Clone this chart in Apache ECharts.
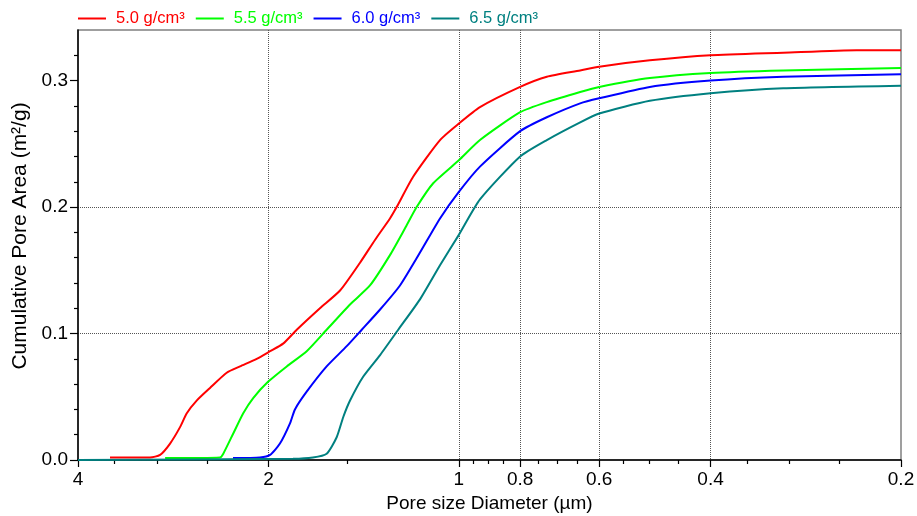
<!DOCTYPE html>
<html>
<head>
<meta charset="utf-8">
<title>Cumulative Pore Area</title>
<script src="https://cdn.jsdelivr.net/npm/echarts@6/dist/echarts.min.js"></script>
<style>
  html, body { margin: 0; padding: 0; background: #fff; }
  #chart { width: 917px; height: 516px; }
</style>
</head>
<body>
<div id="chart"></div>
<script>
// Series names (bulk density of each sample)
const seriesNames = ['5.0 g/cm³', '5.5 g/cm³', '6.0 g/cm³', '6.5 g/cm³'];
const seriesColors = ['#ff0000', '#00ff00', '#0000ff', '#008080'];

// Pore diameter (µm) and cumulative pore area (m²/g) for each sample
const diameter50 = [3.56, 3.078, 2.967, 2.861, 2.759, 2.692, 2.597, 2.474, 2.328, 2.218, 2.087, 1.988, 1.896, 1.804, 1.658, 1.541, 1.433, 1.357, 1.285, 1.254, 1.181, 1.071, 1.0, 0.926, 0.8, 0.726, 0.643, 0.6, 0.499, 0.4, 0.307, 0.235, 0.2];
const area50 = [0.002, 0.002, 0.004, 0.013, 0.026, 0.037, 0.047, 0.057, 0.069, 0.074, 0.080, 0.086, 0.092, 0.103, 0.120, 0.134, 0.156, 0.174, 0.191, 0.200, 0.224, 0.253, 0.266, 0.279, 0.295, 0.303, 0.308, 0.311, 0.316, 0.320, 0.322, 0.324, 0.324];

const diameter55 = [2.913, 2.386, 2.357, 2.273, 2.192, 2.114, 2.001, 1.871, 1.740, 1.618, 1.486, 1.382, 1.285, 1.217, 1.166, 1.097, 1.0, 0.926, 0.8, 0.726, 0.643, 0.6, 0.499, 0.4, 0.307, 0.2];
const area55 = [0.0015, 0.002, 0.005, 0.021, 0.037, 0.049, 0.062, 0.074, 0.086, 0.103, 0.123, 0.138, 0.162, 0.183, 0.200, 0.219, 0.237, 0.253, 0.275, 0.283, 0.291, 0.295, 0.302, 0.306, 0.308, 0.310];

const diameter60 = [2.275, 2.063, 1.988, 1.918, 1.849, 1.816, 1.740, 1.618, 1.504, 1.424, 1.332, 1.239, 1.152, 1.071, 1.0, 0.926, 0.8, 0.726, 0.643, 0.6, 0.499, 0.4, 0.307, 0.2];
const area60 = [0.0015, 0.002, 0.004, 0.013, 0.029, 0.040, 0.054, 0.074, 0.090, 0.103, 0.119, 0.138, 0.164, 0.191, 0.212, 0.232, 0.260, 0.271, 0.282, 0.286, 0.295, 0.300, 0.303, 0.305];

const diameter65 = [4, 1.829, 1.701, 1.618, 1.560, 1.523, 1.486, 1.416, 1.332, 1.247, 1.152, 1.071, 1.0, 0.926, 0.8, 0.726, 0.643, 0.6, 0.499, 0.4, 0.307, 0.2];
const area65 = [0, 0.001, 0.002, 0.005, 0.018, 0.034, 0.047, 0.066, 0.083, 0.103, 0.127, 0.154, 0.178, 0.206, 0.240, 0.253, 0.267, 0.274, 0.284, 0.290, 0.294, 0.296];

// Axis ticks
const xMajorTicks = [4, 2, 1, 0.8, 0.6, 0.4, 0.2];
const xMinorTicks = [3.5, 3, 2.5, 1.5, 0.95, 0.9, 0.85, 0.75, 0.7, 0.65, 0.55, 0.5, 0.45, 0.35, 0.3, 0.25];
const yMajorTicks = [0, 0.1, 0.2, 0.3];
const yMinorTicks = [0.02, 0.04, 0.06, 0.08, 0.12, 0.14, 0.16, 0.18, 0.22, 0.24, 0.26, 0.28, 0.32];

const diameters = [diameter50, diameter55, diameter60, diameter65];
const areas = [area50, area55, area60, area65];

const FONT = 'Liberation Sans, Arial, sans-serif';
const fmtX = v => String(Number(Number(v).toPrecision(3)));
const hiddenLine = { show: true, lineStyle: { color: 'rgba(0,0,0,0)', width: 0 } };

const chart = echarts.init(document.getElementById('chart'), null, { renderer: 'canvas' });

const series = seriesNames.map((name, i) => ({
  name: name,
  type: 'line',
  xAxisIndex: 0,
  yAxisIndex: 0,
  data: diameters[i].map((d, k) => [d, areas[i][k]]),
  showSymbol: false,
  smooth: 0.2,
  lineStyle: { color: seriesColors[i], width: 2 },
  itemStyle: { color: seriesColors[i] },
  emphasis: { disabled: true },
  animation: false
}));

const axisCommonX = {
  type: 'log',
  logBase: 10,
  min: 0.2,
  max: 4,
  inverse: true,
  position: 'bottom'
};

const axisCommonY = {
  type: 'value',
  min: 0,
  max: 0.34,
  position: 'left'
};

chart.setOption({
  animation: false,
  backgroundColor: '#ffffff',
  grid: {
    left: 78, right: 16, top: 30, bottom: 56,
    outerBoundsMode: 'none',
    containLabel: false,
    show: true,
    borderColor: '#808080',
    borderWidth: 1.5,
    backgroundColor: 'transparent'
  },
  legend: {
    left: 73,
    top: 5,
    icon: 'rect',
    itemWidth: 28,
    itemHeight: 2,
    itemGap: 11,
    selectedMode: false,
    data: seriesNames.map((n, i) => ({
      name: n,
      itemStyle: { color: seriesColors[i] },
      textStyle: { color: seriesColors[i] }
    })),
    textStyle: { fontFamily: FONT, fontSize: 16.5, padding: [0, 0, 0, 5] }
  },
  xAxis: [
    Object.assign({}, axisCommonX, {
      name: 'Pore size Diameter (µm)',
      nameLocation: 'middle',
      nameGap: 33,
      nameTextStyle: { fontFamily: FONT, fontSize: 19, color: '#000' },
      axisLine: { show: true, lineStyle: { color: '#000', width: 1.5 } },
      axisTick: { show: true, inside: false, length: 7, customValues: xMajorTicks, lineStyle: { color: '#000', width: 1.2 } },
      axisLabel: { show: true, customValues: xMajorTicks, formatter: fmtX, fontFamily: FONT, fontSize: 19, color: '#000', margin: 10 },
      splitLine: { show: true, showMinLine: false, showMaxLine: false, lineStyle: { color: '#555', type: [1, 1], width: 1 } },
      minorTick: { show: false }
    }),
    Object.assign({}, axisCommonX, {
      axisLine: hiddenLine,
      axisTick: { show: true, inside: false, length: 4, customValues: xMinorTicks, lineStyle: { color: '#000', width: 1.2 } },
      axisLabel: { show: false },
      splitLine: { show: false },
      minorTick: { show: false }
    })
  ],
  yAxis: [
    Object.assign({}, axisCommonY, {
      name: 'Cumulative Pore Area (m²/g)',
      nameLocation: 'middle',
      nameGap: 45,
      nameTextStyle: { fontFamily: FONT, fontSize: 21, color: '#000', padding: [0, 0, 0, 18] },
      axisLine: { show: true, lineStyle: { color: '#000', width: 1.5 } },
      axisTick: { show: true, inside: false, length: 8, customValues: yMajorTicks, lineStyle: { color: '#000', width: 1.2 } },
      axisLabel: { show: true, customValues: yMajorTicks, formatter: v => Number(v).toFixed(1), fontFamily: FONT, fontSize: 19, color: '#000', margin: 10 },
      splitLine: { show: true, showMinLine: false, showMaxLine: false, lineStyle: { color: '#555', type: [1, 1], width: 1 } },
      minorTick: { show: false }
    }),
    Object.assign({}, axisCommonY, {
      axisLine: hiddenLine,
      axisTick: { show: true, inside: false, length: 4, customValues: yMinorTicks, lineStyle: { color: '#000', width: 1.2 } },
      axisLabel: { show: false },
      splitLine: { show: false },
      minorTick: { show: false }
    })
  ],
  series: series
});
</script>
</body>
</html>
